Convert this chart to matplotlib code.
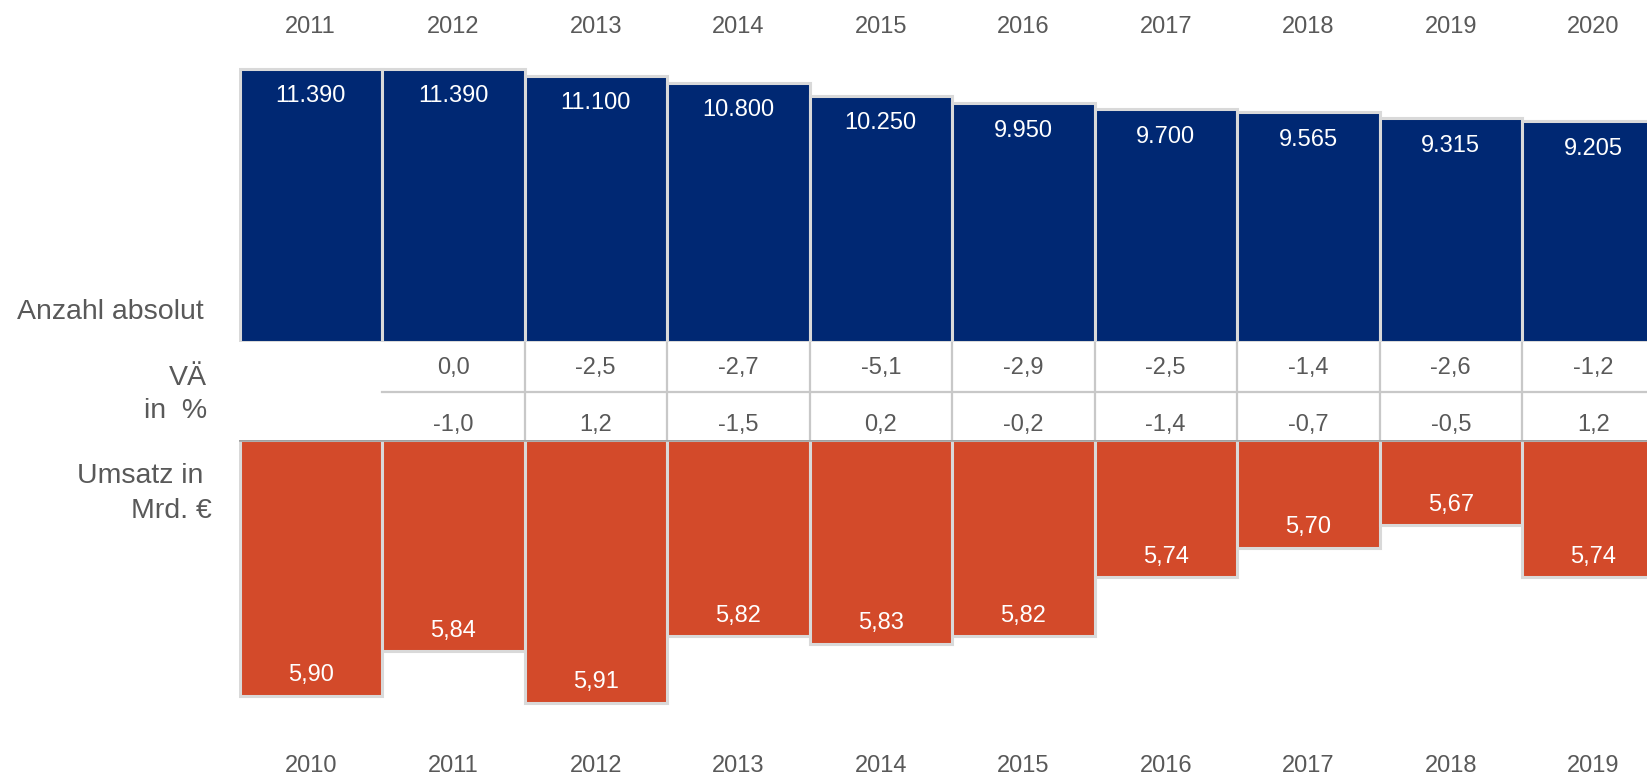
import matplotlib
matplotlib.use("Agg")
import matplotlib.pyplot as plt
from matplotlib.transforms import blended_transform_factory
import numpy as np

plt.rcParams['font.family'] = ['Liberation Sans', 'DejaVu Sans']

# data
years_top = ['2011', '2012', '2013', '2014', '2015', '2016', '2017', '2018', '2019', '2020']
anzahl = [11390, 11390, 11100, 10800, 10250, 9950, 9700, 9565, 9315, 9205]
va_anzahl = [None, 0.0, -2.5, -2.7, -5.1, -2.9, -2.5, -1.4, -2.6, -1.2]
va_umsatz = [None, -1.0, 1.2, -1.5, 0.2, -0.2, -1.4, -0.7, -0.5, 1.2]
years_bottom = ['2010', '2011', '2012', '2013', '2014', '2015', '2016', '2017', '2018', '2019']
umsatz = [5.90, 5.84, 5.91, 5.82, 5.83, 5.82, 5.74, 5.70, 5.67, 5.74]

BLUE = '#002873'
RED = '#D34A2A'
EDGE = '#d9d9d9'
GRAY = '#595959'
LINE = '#c8c8c8'
FS = 17        # numbers / years
FS_LEFT = 20.5  # row captions

W, H = 1647, 775
fig = plt.figure(figsize=(W / 100, H / 100), dpi=100)


def px_axes(left, top, right, bottom):
    """axes placed by pixel box (origin top-left)"""
    ax = fig.add_axes([left / W, 1 - bottom / H, (right - left) / W, (bottom - top) / H])
    ax.set_axis_off()
    return ax


def half_cap(fs):
    # half the digit/cap height in pixels, to centre glyphs on a baseline
    return 0.358 * fs * 100 / 72


def fig_y(y_px, fs):
    return 1 - (y_px + half_cap(fs)) / H


def fmt_int(v):
    return f"{v:,}".replace(',', '.')


def fmt_dec(v, n):
    return f"{v:.{n}f}".replace('.', ',')


x = np.arange(len(anzahl))
x_left, unit = 239.5, 142.5
xlim = (-0.5, -0.5 + (W - x_left) / unit)

# top: absolute count
top_bottom_px = 342
ax_top = px_axes(x_left, 0, W, top_bottom_px)
ax_top.bar(x, anzahl, width=1.0, color=BLUE, edgecolor=EDGE, linewidth=2.2)
ax_top.set_xlim(*xlim)
ax_top.set_ylim(0, top_bottom_px / 0.0240)
for xi, v in zip(x, anzahl):
    ax_top.annotate(fmt_int(v), (xi, v), xytext=(0, -25 - half_cap(FS)), textcoords='offset pixels',
                    ha='center', va='baseline', color='white', fontsize=FS)
tr = blended_transform_factory(ax_top.transData, fig.transFigure)
for xi, lab in zip(x, years_top):
    ax_top.text(xi, fig_y(25, FS), lab, transform=tr, ha='center', va='baseline',
                color=GRAY, fontsize=FS, clip_on=False)

# middle: change table
tab_top, tab_bot = 342, 439.5
ax_tab = px_axes(x_left, tab_top, W, tab_bot)
ax_tab.set_xlim(*xlim)
ax_tab.set_ylim(1, 0)
sep = (391.7 - tab_top) / (tab_bot - tab_top)
for xb in x[1:-1] + 0.5:
    ax_tab.plot([xb, xb], [0, 1], color=LINE, lw=1.6, solid_capstyle='butt')
ax_tab.plot([0.5, xlim[1]], [sep, sep], color=LINE, lw=1.6)
tr = blended_transform_factory(ax_tab.transData, fig.transFigure)
for xi, a, u in zip(x, va_anzahl, va_umsatz):
    if a is not None:
        ax_tab.text(xi, fig_y(365.5, FS), fmt_dec(a, 1), transform=tr, ha='center',
                    va='baseline', color=GRAY, fontsize=FS)
    if u is not None:
        ax_tab.text(xi, fig_y(422.5, FS), fmt_dec(u, 1), transform=tr, ha='center',
                    va='baseline', color=GRAY, fontsize=FS)

# bottom: revenue (hanging bars)
base = 5.554
scale = 740.0
ax_bot = px_axes(x_left, tab_bot, W, H)
ax_bot.bar(x, np.array(umsatz) - base, bottom=base, width=1.0, color=RED,
           edgecolor=EDGE, linewidth=2.2)
ax_bot.set_xlim(*xlim)
ax_bot.set_ylim(base + (H - tab_bot) / scale, base)
ax_bot.axhline(base, color='#a0a0a0', lw=1.8, zorder=5)
for xi, v in zip(x, umsatz):
    ax_bot.annotate(fmt_dec(v, 2), (xi, v), xytext=(0, 23 - half_cap(FS)), textcoords='offset pixels',
                    ha='center', va='baseline', color='white', fontsize=FS)
tr = blended_transform_factory(ax_bot.transData, fig.transFigure)
for xi, lab in zip(x, years_bottom):
    ax_bot.text(xi, fig_y(764, FS), lab, transform=tr, ha='center', va='baseline',
                color=GRAY, fontsize=FS, clip_on=False)


# row labels on the left
def left_label(txt, right_px, y_px):
    fig.text(right_px / W, fig_y(y_px, FS_LEFT), txt, ha='right', va='baseline',
             color=GRAY, fontsize=FS_LEFT)


left_label('Anzahl absolut', 204, 309)
left_label('VÄ', 207, 375)
left_label('in  %', 207, 408)
left_label('Umsatz in', 203, 473)
left_label('Mrd. €', 212, 508)

fig.savefig('out.png', dpi=100)
